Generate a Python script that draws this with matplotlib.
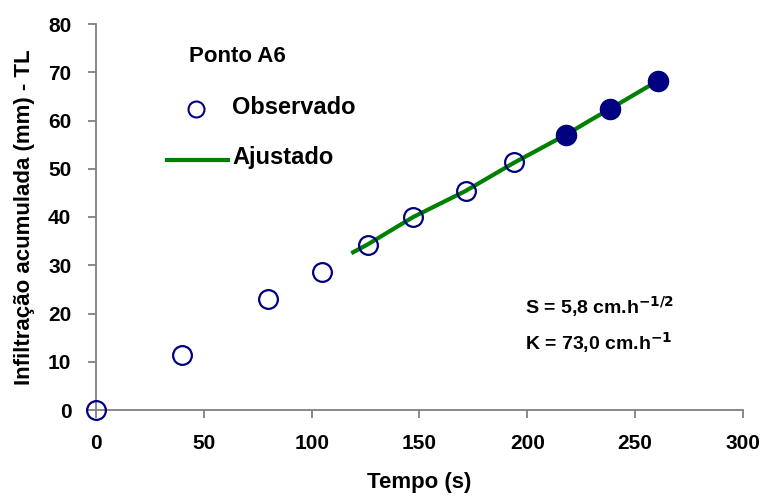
import matplotlib
matplotlib.use('Agg')
import matplotlib.pyplot as plt

plt.rcParams['font.family'] = ['Liberation Sans', 'DejaVu Sans']
plt.rcParams['font.weight'] = 'bold'

# observados (abertos) e pontos usados no ajuste (cheios)
t_obs = [0, 39.6, 79.5, 104.6, 125.9, 147.1, 171.4, 193.7]
i_obs = [0, 11.4, 23.0, 28.5, 34.3, 40.1, 45.4, 51.3]
t_fill = [217.8, 238.4, 260.5]
i_fill = [57.0, 62.4, 68.2]

# curva ajustada
t_aj = [119.2, 125.9, 147.1, 171.4, 193.7, 217.8, 228.3, 238.4, 260.5]
i_aj = [32.7, 34.3, 40.0, 45.4, 51.2, 57.0, 59.8, 62.4, 68.2]

x_ticks = [0, 50, 100, 150, 200, 250, 300]
y_ticks = [0, 10, 20, 30, 40, 50, 60, 70, 80]

navy = '#000080'
green = '#008000'
gray = '#808080'

fig = plt.figure(figsize=(7.68, 5.0), dpi=100)
ax = fig.add_axes([0.1254, 0.18, 0.8416, 0.772])

ax.plot(t_aj, i_aj, color=green, lw=3, zorder=2)
ax.plot(t_obs, i_obs, 'o', ms=13.5, mfc='none', mec=navy, mew=1.6, clip_on=False, zorder=3)
ax.plot(t_fill, i_fill, 'o', ms=14.5, mfc=navy, mec=navy, clip_on=False, zorder=3)

ax.set_xlim(0, 300)
ax.set_ylim(0, 80)
ax.set_xticks(x_ticks)
ax.set_yticks(y_ticks)
for s in ['top', 'right']:
    ax.spines[s].set_visible(False)
for s in ['left', 'bottom']:
    ax.spines[s].set_color(gray)
    ax.spines[s].set_linewidth(1.3)
ax.tick_params(axis='both', colors=gray, width=1.3, length=6, labelsize=15, labelcolor='black')
ax.tick_params(axis='x', pad=11)
ax.tick_params(axis='y', pad=12)
for lbl in ax.get_xticklabels() + ax.get_yticklabels():
    lbl.set_fontweight('bold')

ax.set_xlabel('Tempo (s)', fontsize=16, fontweight='bold', labelpad=14)
ax.set_ylabel('Infiltração acumulada (mm) - TL', fontsize=16, fontweight='bold', labelpad=9)

# legenda manual
ax.text(43, 73.3, 'Ponto A6', fontsize=16, fontweight='bold', va='center')
ax.plot([46.5], [62.3], 'o', ms=11.5, mfc='none', mec=navy, mew=1.5)
ax.text(63, 62.6, 'Observado', fontsize=17, fontweight='bold', va='center')
ax.plot([33, 61], [51.9, 51.9], color=green, lw=3)
ax.text(63, 52.4, 'Ajustado', fontsize=17, fontweight='bold', va='center')

ax.text(199, 21.5, r'S = 5,8 cm.h$^{\mathbf{-1/2}}$', fontsize=14, fontweight='bold', va='center')
ax.text(199, 14, r'K = 73,0 cm.h$^{\mathbf{-1}}$', fontsize=14, fontweight='bold', va='center')

fig.savefig('out.png', dpi=100)
